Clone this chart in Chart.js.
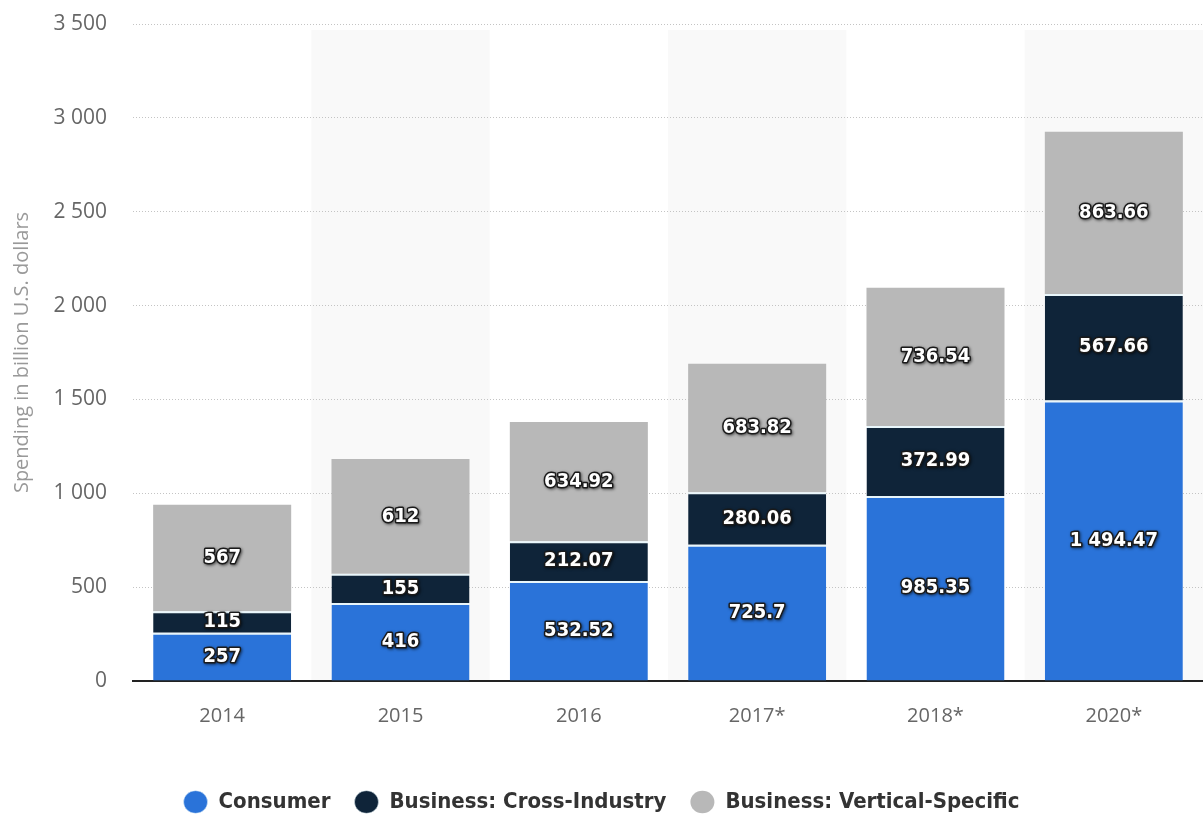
<!DOCTYPE html>
<html><head><meta charset="utf-8">
<script src="https://cdn.jsdelivr.net/npm/chart.js@4"></script>
<style>html,body{margin:0;padding:0;background:#fff;}#wrap{width:1203px;height:814px;position:relative;}</style>
</head><body><div id="wrap"><canvas id="c" width="1203" height="814"></canvas></div>
<script>
const categories = ['2014', '2015', '2016', '2017*', '2018*', '2020*'];
const consumer = [257, 416, 532.52, 725.7, 985.35, 1494.47];
const crossIndustry = [115, 155, 212.07, 280.06, 372.99, 567.66];
const verticalSpecific = [567, 612, 634.92, 683.82, 736.54, 863.66];
const seriesNames = ['Consumer', 'Business: Cross-Industry', 'Business: Vertical-Specific'];
const yTicks = [0, 500, 1000, 1500, 2000, 2500, 3000, 3500];

function fmt(v) {
  const parts = String(v).split('.');
  parts[0] = parts[0].replace(/\B(?=(\d{3})+(?!\d))/g, ' ');
  return parts.join('.');
}

const bandPlugin = {
  id: 'bands',
  beforeDraw(chart) {
    const ctx = chart.ctx, x = chart.scales.x, ca = chart.chartArea;
    const w = (ca.right - ca.left) / categories.length;
    ctx.save();
    ctx.fillStyle = '#f9f9f9';
    categories.forEach((c, i) => {
      if (i % 2 === 1) {
        const cx = x.getPixelForValue(i);
        ctx.fillRect(cx - w / 2, ca.top + 6, w, ca.bottom - ca.top - 6);
      }
    });
    ctx.restore();
  }
};

const labelPlugin = {
  id: 'vlabels',
  afterDatasetsDraw(chart) {
    const ctx = chart.ctx;
    ctx.save();
    ctx.font = 'bold 20px "DejaVu Sans Condensed", "DejaVu Sans", sans-serif';
    ctx.textAlign = 'center';
    ctx.textBaseline = 'middle';
    chart.data.datasets.forEach((ds, di) => {
      const meta = chart.getDatasetMeta(di);
      meta.data.forEach((el, i) => {
        const t = fmt(ds.data[i]);
        const cx = el.x, cy = (el.y + el.base) / 2;
        ctx.lineJoin = 'round';
        ctx.shadowColor = 'rgba(0,0,0,0.6)';
        ctx.shadowBlur = 3;
        ctx.shadowOffsetX = 1;
        ctx.shadowOffsetY = 1;
        ctx.strokeStyle = '#1a1a1a';
        ctx.lineWidth = 3;
        ctx.strokeText(t, cx, cy);
        ctx.shadowColor = 'transparent';
        ctx.fillStyle = '#ffffff';
        ctx.fillText(t, cx, cy);
      });
    });
    ctx.restore();
  }
};

const colors = ['#2a73d9', '#0f2439', '#b8b8b8'];
const dataArrays = [consumer, crossIndustry, verticalSpecific];

new Chart(document.getElementById('c'), {
  type: 'bar',
  data: {
    labels: categories,
    datasets: dataArrays.map((d, i) => ({
      label: seriesNames[i],
      data: d,
      backgroundColor: colors[i],
      borderColor: '#e8f6fb',
      borderWidth: {top: i === 2 ? 0 : 2, left: 0, right: 0, bottom: 0},
      borderSkipped: false,
      barPercentage: 0.774,
      categoryPercentage: 1.0
    }))
  },
  options: {
    responsive: false,
    animation: false,
    devicePixelRatio: 1,
    layout: {padding: {top: 24, right: 0, left: 0, bottom: -9}},
    plugins: {
      legend: {
        position: 'bottom',
        labels: {
          usePointStyle: true,
          pointStyle: 'circle',
          boxWidth: 16,
          boxHeight: 16,
          pointStyleWidth: 24,
          padding: 24,
          color: '#333',
          font: {family: '"DejaVu Sans Condensed", "DejaVu Sans", sans-serif', size: 22, weight: 'bold'}
        }
      },
      tooltip: {enabled: false}
    },
    scales: {
      x: {
        stacked: true,
        grid: {display: false},
        border: {display: true, color: '#222', width: 2},
        ticks: {color: '#666', font: {family: '"Open Sans", sans-serif', size: 20}, padding: 15},
        afterFit(s) { s.height = 86; }
      },
      y: {
        stacked: true,
        min: 0, max: 3500,
        afterBuildTicks(s) { s.ticks = yTicks.map(v => ({value: v})); },
        grid: {color: '#c4c4c4', lineWidth: 1, drawTicks: false},
        border: {display: false, dash: [1, 2]},
        ticks: {color: '#666', font: {family: '"Open Sans", sans-serif', size: 21}, padding: 26, callback: v => fmt(v)},
        title: {display: true, text: 'Spending in billion U.S. dollars', color: '#999', font: {family: '"Open Sans", sans-serif', size: 20}, padding: {top: 10, bottom: 0}},
        afterFit(s) { s.width = 133; s.paddingTop = 0; s.paddingBottom = 0; }
      }
    }
  },
  plugins: [bandPlugin, labelPlugin]
});
</script>
</body></html>
